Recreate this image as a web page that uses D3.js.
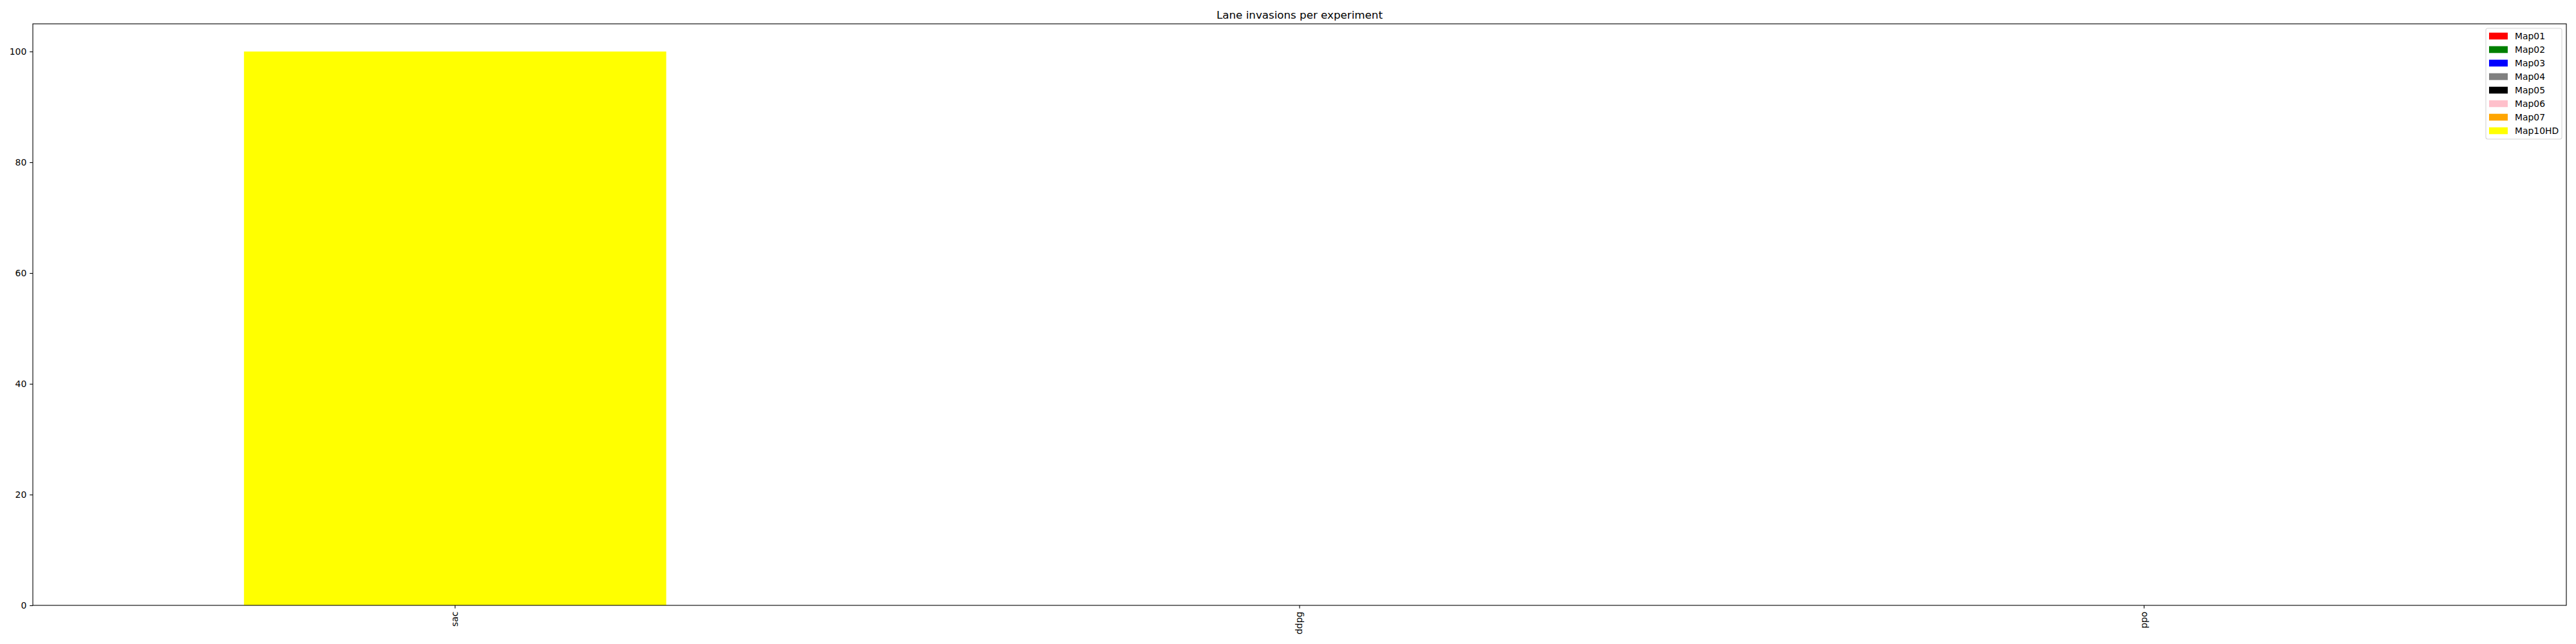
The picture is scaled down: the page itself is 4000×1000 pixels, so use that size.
<!DOCTYPE html>
<html>
<head>
<meta charset="utf-8">
<script src="https://cdn.jsdelivr.net/npm/d3@7"></script>
<style>
  html, body { margin: 0; padding: 0; background: #fff; }
  svg { display: block; font-family: "DejaVu Sans", sans-serif; }
</style>
</head>
<body>
<svg id="chart" width="4000" height="1000"></svg>
<script>
const categories = ["sac", "ddpg", "ppo"];
const seriesNames = ["Map01", "Map02", "Map03", "Map04", "Map05", "Map06", "Map07", "Map10HD"];
const seriesColors = ["red", "green", "blue", "gray", "black", "pink", "orange", "yellow"];
const map01 = [0, 0, 0];
const map02 = [0, 0, 0];
const map03 = [0, 0, 0];
const map04 = [0, 0, 0];
const map05 = [0, 0, 0];
const map06 = [0, 0, 0];
const map07 = [0, 0, 0];
const map10HD = [100, 0, 0];
const yTicks = [0, 20, 40, 60, 80, 100];
const title = "Lane invasions per experiment";

const seriesValues = [map01, map02, map03, map04, map05, map06, map07, map10HD];

const W = 4000, H = 1000;
const m = { left: 51, right: 3985, top: 37, bottom: 940 };
const svg = d3.select("#chart");

const x = d3.scaleBand().domain(categories).range([m.left, m.right])
  .paddingInner(0.5).paddingOuter(0.25);
const y = d3.scaleLinear().domain([0, 105]).range([m.bottom, m.top]);

// bars (all series drawn at the same position, later ones on top)
seriesNames.forEach((name, i) => {
  svg.append("g").selectAll("rect")
    .data(categories.map((c, j) => ({ c, v: seriesValues[i][j] })))
    .join("rect")
    .attr("x", d => x(d.c))
    .attr("width", x.bandwidth())
    .attr("y", d => y(d.v))
    .attr("height", d => y(0) - y(d.v))
    .attr("fill", seriesColors[i]);
});

const fs = 13.9;
// y axis
const yAxis = d3.axisLeft(y).tickValues(yTicks).tickSize(4.86).tickPadding(4.86).tickFormat(d3.format("d"));
const gy = svg.append("g").attr("transform", `translate(${m.left},0)`).call(yAxis);
gy.select(".domain").remove();
gy.selectAll("line").attr("stroke", "#000").attr("stroke-width", 1.1);
gy.selectAll("text").attr("font-size", fs).attr("fill", "#000").attr("font-family", "DejaVu Sans");

// x axis
const xAxis = d3.axisBottom(x).tickSize(4.86).tickPadding(4.86);
const gx = svg.append("g").attr("transform", `translate(0,${m.bottom})`).call(xAxis);
gx.select(".domain").remove();
gx.selectAll("line").attr("stroke", "#000").attr("stroke-width", 1.1);
gx.selectAll("text")
  .attr("font-size", fs).attr("fill", "#000").attr("font-family", "DejaVu Sans")
  .attr("transform", "translate(0,9.72) rotate(-90)")
  .attr("x", 0).attr("y", 0).attr("dy", "0.32em")
  .attr("text-anchor", "end");

// frame
svg.append("rect")
  .attr("x", m.left).attr("y", m.top)
  .attr("width", m.right - m.left).attr("height", m.bottom - m.top)
  .attr("fill", "none").attr("stroke", "#000").attr("stroke-width", 1.1);

// title
svg.append("text")
  .attr("x", (m.left + m.right) / 2).attr("y", 29)
  .attr("text-anchor", "middle").attr("font-size", 16.7).attr("fill", "#000")
  .text(title);

// legend
const lg = svg.append("g");
const lx = 3860, ly = 44, lw = 118, lh = 172;
lg.append("rect").attr("x", lx).attr("y", ly).attr("width", lw).attr("height", lh)
  .attr("rx", 3).attr("fill", "#fff").attr("fill-opacity", 0.8)
  .attr("stroke", "#d6d6d6").attr("stroke-width", 1.1);
seriesNames.forEach((name, i) => {
  const cy = 56 + i * 21;
  lg.append("rect").attr("x", 3865).attr("y", cy - 5.3).attr("width", 29).attr("height", 10.6)
    .attr("fill", seriesColors[i]);
  lg.append("text").attr("x", 3905).attr("y", cy).attr("dy", "0.35em")
    .attr("font-size", fs).attr("fill", "#000").text(name);
});
</script>
</body>
</html>
